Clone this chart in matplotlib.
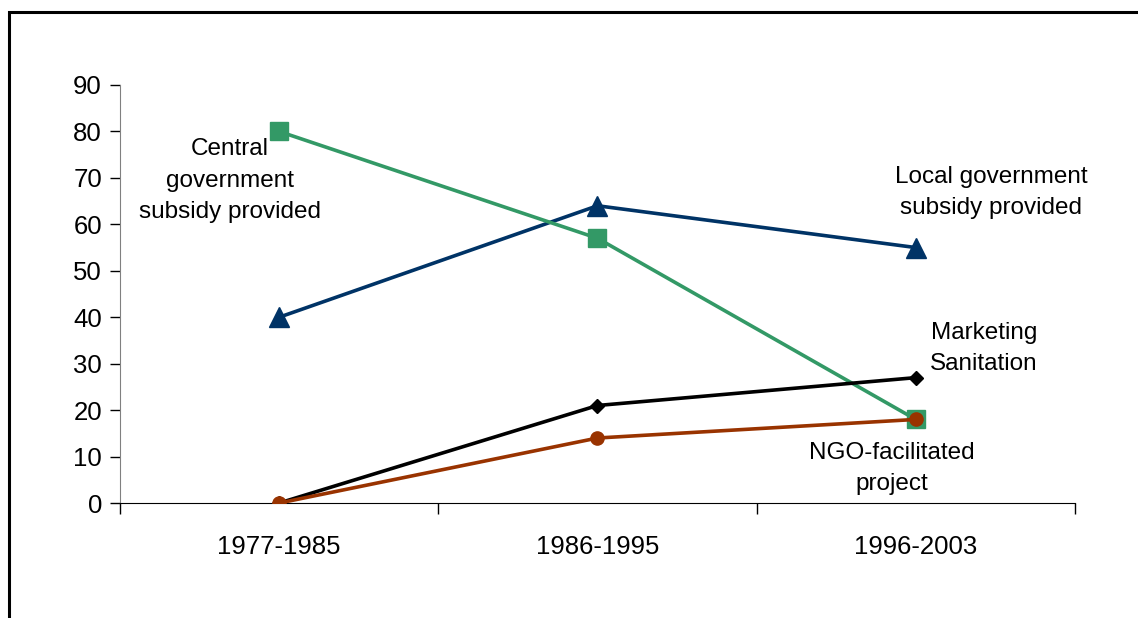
import matplotlib.pyplot as plt
from matplotlib.patches import Rectangle

plt.rcParams['font.family'] = ['Liberation Sans', 'DejaVu Sans']

periods = ["1977-1985", "1986-1995", "1996-2003"]
central_gov = [80, 57, 18]
local_gov = [40, 64, 55]
marketing = [0, 21, 27]
ngo = [0, 14, 18]

x = list(range(len(periods)))

fig = plt.figure(figsize=(11.38, 6.18), dpi=100)
ax = fig.add_axes([0.1054, 0.186, 0.8392, 0.6765])

# outer frame, cut off at right and bottom like the original
fig.patches.append(Rectangle((0.0079, -0.1), 1.2, 1.0806, transform=fig.transFigure,
                             fill=False, edgecolor="black", linewidth=2.2))

ax.plot(x, local_gov, color="#003366", lw=2.6, marker="^", ms=14, zorder=3)
ax.plot(x, central_gov, color="#339966", lw=2.6, marker="s", ms=13.5, zorder=3)
ax.plot(x, marketing, color="black", lw=2.6, marker="D", ms=7.5, zorder=4)
ax.plot(x, ngo, color="#993300", lw=2.6, marker="o", ms=9.5, zorder=5)

ax.set_xlim(-0.5, 2.5)
ax.set_ylim(0, 90)
ax.set_yticks(range(0, 91, 10))
ax.set_xticks([-0.5, 0.5, 1.5, 2.5])
ax.set_xticklabels([])
ax.set_xticks(x, minor=True)
ax.set_xticklabels(periods, minor=True)
ax.tick_params(axis="x", which="major", direction="out", length=8, width=1)
ax.tick_params(axis="x", which="minor", length=0, pad=23, labelsize=18.5)
ax.tick_params(axis="y", direction="out", length=7, width=1, labelsize=18.5, pad=6)

for s in ["top", "right"]:
    ax.spines[s].set_visible(False)
ax.spines["left"].set_color("#808080")
ax.spines["bottom"].set_color("black")

txt = dict(fontsize=17.5, ha="center", va="center", linespacing=1.55)
ax.text(-0.154, 69.4, "Central\ngovernment\nsubsidy provided", **txt)
ax.text(2.236, 66.8, "Local government\nsubsidy provided", **txt)
ax.text(2.214, 33.3, "Marketing\nSanitation", **txt)
ax.text(1.925, 7.5, "NGO-facilitated\nproject", **txt)

fig.savefig("out.png", dpi=100)
